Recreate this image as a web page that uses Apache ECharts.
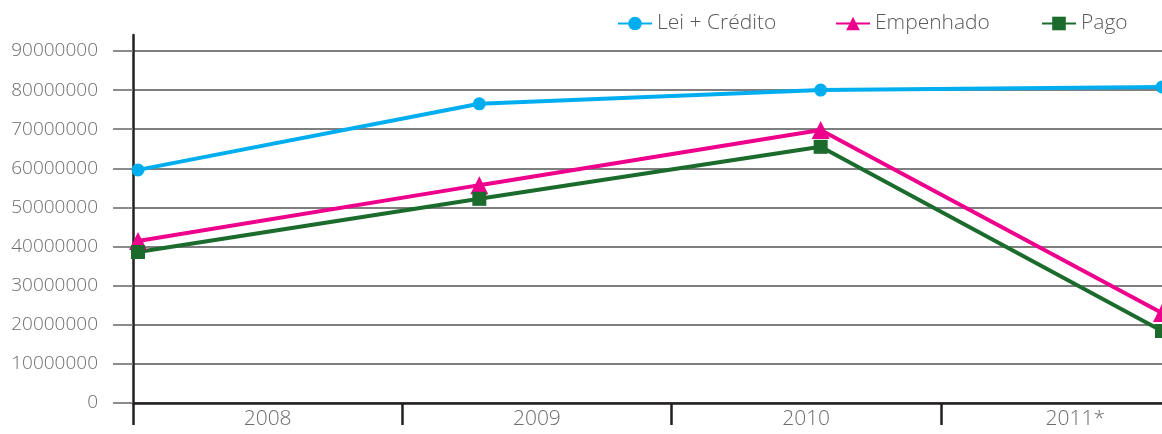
<!DOCTYPE html>
<html>
<head>
<meta charset="utf-8">
<script src="https://cdn.jsdelivr.net/npm/echarts@6/dist/echarts.min.js"></script>
<style>html,body{margin:0;padding:0;background:#fff;}#c{width:1162px;height:434px;}</style>
</head>
<body>
<div id="c"></div>
<script>
const categories = ['2008', '2009', '2010', '2011*'];
const leiCredito = [59600000, 76500000, 80000000, 80800000];
const empenhado = [41400000, 55700000, 69800000, 23000000];
const pago = [38600000, 52200000, 65500000, 18400000];
const yTicks = { min: 0, max: 90000000, interval: 10000000 };

const FONT = '"Open Sans", "Noto Sans", sans-serif';
const chart = echarts.init(document.getElementById('c'));
chart.setOption({
  animation: false,
  backgroundColor: '#fff',
  legend: [
    { data: ['Lei + Crédito'], left: 612, top: 8 },
    { data: ['Empenhado'], left: 830, top: 8 },
    { data: ['Pago'], left: 1036, top: 8 }
  ].map(l => Object.assign({
    itemWidth: 34, itemHeight: 17, itemGap: 10,
    textStyle: { fontFamily: FONT, fontSize: 21, color: '#5a5a5a', fontWeight: 300 }
  }, l)),
  grid: [
    { left: 133, right: 0, top: 35, bottom: 31, outerBoundsMode: 'none' },   // axis line only
    { left: 133, width: 1077, top: 51, bottom: 31, outerBoundsMode: 'none' }, // labels + grid
    { left: 138, right: 0, top: 51, bottom: 31, outerBoundsMode: 'none' }    // series
  ],
  xAxis: [
    { gridIndex: 0, type: 'category', data: categories, show: false },
    {
      gridIndex: 1, type: 'category', data: categories, boundaryGap: true,
      axisLine: { show: true, lineStyle: { color: '#231f20', width: 2.5 } },
      axisTick: { show: true, interval: 0, alignWithLabel: false, length: 22, lineStyle: { color: '#231f20', width: 2.5 } },
      axisLabel: { margin: 6, fontFamily: FONT, fontSize: 21, color: '#6d6d6d', fontWeight: 300 },
      splitLine: { show: false }
    },
    { gridIndex: 2, type: 'category', data: categories, boundaryGap: false, show: false }
  ],
  yAxis: [
    {
      gridIndex: 0, type: 'value', min: 0, max: 1,
      axisLine: { show: true, lineStyle: { color: '#231f20', width: 2.5 } },
      axisTick: { show: false }, axisLabel: { show: false }, splitLine: { show: false }
    },
    {
      gridIndex: 1, type: 'value', min: yTicks.min, max: yTicks.max, interval: yTicks.interval,
      axisLine: { show: false },
      axisTick: { show: true, length: 20, lineStyle: { color: '#7f7f7f', width: 1.8 } },
      axisLabel: { margin: 35, fontFamily: FONT, fontSize: 19, color: '#6d6d6d', fontWeight: 300,
        formatter: v => String(v) },
      splitLine: { show: true, lineStyle: { color: '#7f7f7f', width: 1.8 } }
    },
    { gridIndex: 2, type: 'value', min: yTicks.min, max: yTicks.max, show: false }
  ],
  series: [
    {
      name: 'Lei + Crédito', type: 'line', xAxisIndex: 2, yAxisIndex: 2, data: leiCredito,
      symbol: 'circle', symbolSize: 13, color: '#00aeef',
      lineStyle: { width: 4, color: '#00aeef' }, itemStyle: { color: '#00aeef' }
    },
    {
      name: 'Empenhado', type: 'line', xAxisIndex: 2, yAxisIndex: 2, data: empenhado,
      symbol: 'triangle', symbolSize: 18, color: '#ec008c',
      lineStyle: { width: 4, color: '#ec008c' }, itemStyle: { color: '#ec008c' }
    },
    {
      name: 'Pago', type: 'line', xAxisIndex: 2, yAxisIndex: 2, data: pago,
      symbol: 'rect', symbolSize: 14, color: '#1a6b2c',
      lineStyle: { width: 4, color: '#1a6b2c' }, itemStyle: { color: '#1a6b2c' }
    }
  ]
});
</script>
</body>
</html>
